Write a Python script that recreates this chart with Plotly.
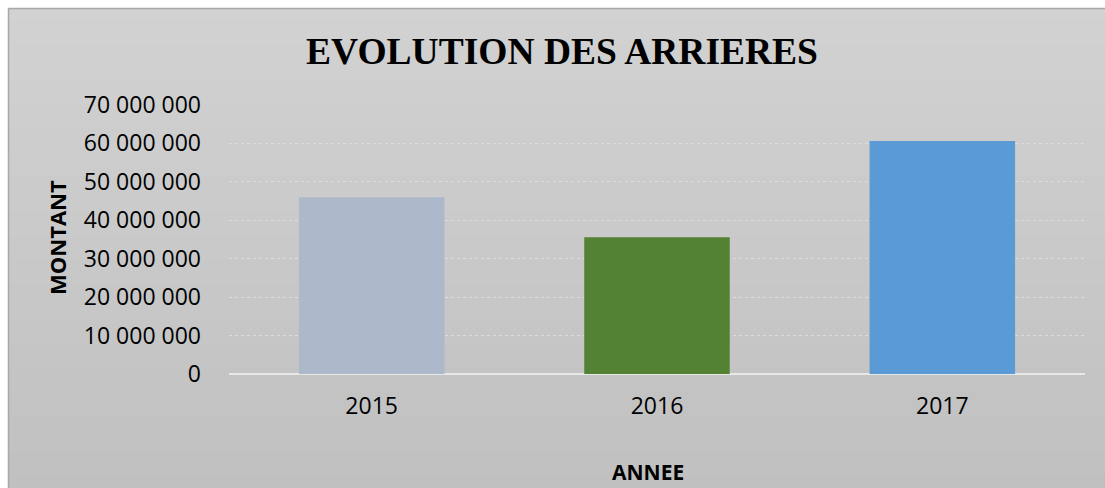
import plotly.graph_objects as go

years = ["2015", "2016", "2017"]
montants = [46000000, 35600000, 60600000]
bar_colors = ["#adb9ca", "#548235", "#5b9bd5"]
tick_vals = [0, 10000000, 20000000, 30000000, 40000000, 50000000, 60000000, 70000000]
tick_text = ["0", "10 000 000", "20 000 000", "30 000 000", "40 000 000", "50 000 000", "60 000 000", "70 000 000"]

W, H = 1105, 488
L, R, T, B = 229, 20, 105, 114
PW, PH = W - L - R, H - T - B

def px_x(x):
    return (x - L) / PW

def px_y(y):
    return (H - B - y) / PH

fig = go.Figure()
fig.add_trace(go.Bar(
    x=years, y=montants,
    marker=dict(color=bar_colors, line=dict(width=0)),
    width=0.51,
))

# vertical gradient background of the chart area (decorative bands)
n_bands = 40
top, bot = 8, H
for i in range(n_bands):
    y0 = top + (bot - top) * i / n_bands
    y1 = top + (bot - top) * (i + 1) / n_bands + 0.5
    t = (i + 0.5) / n_bands
    g = round(0xd2 + (0xc0 - 0xd2) * t)
    fig.add_shape(type="rect", xref="paper", yref="paper",
                  x0=px_x(8), x1=px_x(W + 2), y0=px_y(y1), y1=px_y(y0),
                  fillcolor=f"rgb({g},{g},{g})", line=dict(width=0), layer="below")

fig.add_shape(type="line", xref="paper", yref="paper",
              x0=px_x(8.5), x1=px_x(W), y0=px_y(8.5), y1=px_y(8.5),
              line=dict(color="#a8a8a8", width=1.5), layer="below")
fig.add_shape(type="line", xref="paper", yref="paper",
              x0=px_x(8.5), x1=px_x(8.5), y0=px_y(H), y1=px_y(8.5),
              line=dict(color="#a8a8a8", width=1.5), layer="below")

fig.add_annotation(text="<b>MONTANT</b>", xref="paper", yref="paper",
                   x=px_x(57), y=px_y(238), textangle=-90, showarrow=False,
                   xanchor="center", yanchor="middle",
                   font=dict(size=22, family="Open Sans", color="black"))
fig.add_annotation(text="<b>ANNEE</b>", xref="paper", yref="paper",
                   x=px_x(648), y=px_y(472), showarrow=False,
                   xanchor="center", yanchor="middle",
                   font=dict(size=21, family="Open Sans", color="black"))

fig.update_layout(
    width=W, height=H,
    margin=dict(l=L, r=R, t=T, b=B),
    paper_bgcolor="white", plot_bgcolor="rgba(0,0,0,0)",
    showlegend=False,
    title=dict(text="<b>EVOLUTION DES ARRIERES</b>", x=562 / W, xanchor="center", xref="container",
               y=1 - 51 / H, yanchor="middle",
               font=dict(family="Liberation Serif", size=37.5, color="black")),
    font=dict(family="Open Sans", color="black"),
)
fig.update_yaxes(range=[0, 70000000], tickvals=tick_vals, ticktext=tick_text,
                 tickfont=dict(size=23, family="Open Sans"), ticks="", ticklen=0,
                 ticklabelstandoff=27,
                 showgrid=True, gridcolor="#dcdcdc", griddash="dot", gridwidth=1,
                 zeroline=True, zerolinecolor="#e8e8e8", zerolinewidth=2,
                 showline=False)
fig.update_xaxes(tickfont=dict(size=23, family="Open Sans"), ticks="", showline=False,
                 ticklabelstandoff=16, range=[-0.5, 2.5])
fig.write_html("out.html", config={"displayModeBar": False},
               post_script="document.body.style.margin='0';document.body.style.overflow='hidden';")
